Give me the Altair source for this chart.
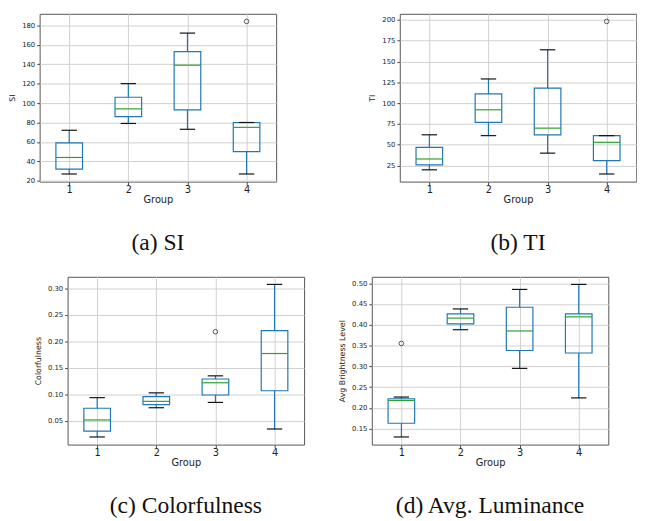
import altair as alt
import pandas as pd

groups = [1, 2, 3, 4]

# (a) SI
si_low = [27, 79, 73, 27]
si_q1 = [32, 86, 93, 50]
si_med = [44, 94, 139, 75]
si_q3 = [59, 106, 153, 80]
si_high = [72, 120, 172, 80]
si_out_group = [4]
si_out_val = [184]
si_ticks = [20, 40, 60, 80, 100, 120, 140, 160, 180]

# (b) TI
ti_low = [20, 61, 40, 15]
ti_q1 = [26, 77, 62, 31]
ti_med = [33, 92, 70, 53]
ti_q3 = [47, 111, 118, 61]
ti_high = [62, 129, 164, 61]
ti_out_group = [4]
ti_out_val = [198]
ti_ticks = [25, 50, 75, 100, 125, 150, 175, 200]

# (c) Colorfulness
cf_low = [0.020, 0.075, 0.085, 0.035]
cf_q1 = [0.031, 0.081, 0.099, 0.107]
cf_med = [0.052, 0.087, 0.122, 0.177]
cf_q3 = [0.074, 0.096, 0.129, 0.220]
cf_high = [0.094, 0.103, 0.135, 0.307]
cf_out_group = [3]
cf_out_val = [0.218]
cf_ticks = [0.05, 0.10, 0.15, 0.20, 0.25, 0.30]

# (d) Avg. Luminance
lum_low = [0.130, 0.388, 0.295, 0.224]
lum_q1 = [0.163, 0.402, 0.338, 0.332]
lum_med = [0.218, 0.416, 0.385, 0.419]
lum_q3 = [0.222, 0.426, 0.442, 0.426]
lum_high = [0.226, 0.438, 0.485, 0.497]
lum_out_group = [1]
lum_out_val = [0.355]
lum_ticks = [0.15, 0.20, 0.25, 0.30, 0.35, 0.40, 0.45, 0.50]

BLUE = "#1f77b4"
GREEN = "#2ca02c"
W, H = 241, 171


def ydomain(low, high, ov):
    lo = min(low + ov)
    hi = max(high + ov)
    pad = (hi - lo) * 0.05
    return [lo - pad, hi + pad]


def panel(low, q1, med, q3, high, og, ov, ytitle, ticks, fmt, caption):
    df = pd.DataFrame({"g": groups, "low": low, "q1": q1, "med": med,
                       "q3": q3, "high": high})
    out = pd.DataFrame({"g": og, "v": ov})
    xs = alt.Scale(domain=[0.5, 4.5], nice=False, zero=False)
    ys = alt.Scale(domain=ydomain(low, high, ov), nice=False, zero=False)
    xax = alt.Axis(values=groups, title="Group", grid=True, format="d",
                   labelFontSize=10, titleFontSize=10, labelPadding=0,
                   titlePadding=0)
    yax = alt.Axis(values=ticks, format=fmt, title=ytitle, grid=True,
                   labelFontSize=7, titleFontSize=8, labelPadding=2,
                   titlePadding=5)

    def X(f):
        return alt.X(f, type="quantitative", scale=xs, axis=xax)

    def Y(f):
        return alt.Y(f, type="quantitative", scale=ys, axis=yax)

    base = alt.Chart(df).transform_calculate(
        bx0="datum.g - 0.225", bx1="datum.g + 0.225",
        cx0="datum.g - 0.13", cx1="datum.g + 0.13")
    wl = base.mark_rule(color=BLUE, strokeWidth=1.2).encode(
        x=X("g"), y=Y("low"), y2="q1:Q")
    wh = base.mark_rule(color=BLUE, strokeWidth=1.2).encode(
        x=X("g"), y=Y("q3"), y2="high:Q")
    box = base.mark_rect(fillOpacity=0, fill="white", stroke=BLUE,
                         strokeWidth=1.2).encode(
        x=X("bx0"), x2="bx1:Q", y=Y("q1"), y2="q3:Q")
    md = base.mark_rule(color=GREEN, strokeWidth=1.2).encode(
        x=X("bx0"), x2="bx1:Q", y=Y("med"))
    cl = base.mark_rule(color="#111111", strokeWidth=1.2).encode(
        x=X("cx0"), x2="cx1:Q", y=Y("low"))
    ch = base.mark_rule(color="#111111", strokeWidth=1.2).encode(
        x=X("cx0"), x2="cx1:Q", y=Y("high"))
    pts = alt.Chart(out).mark_point(shape="circle", filled=False,
                                    color="#111111", size=22,
                                    strokeWidth=1).encode(
        x=X("g"), y=Y("v"))
    return alt.layer(wl, wh, box, md, cl, ch, pts).properties(
        width=W, height=H,
        title=alt.TitleParams(caption, orient="bottom", anchor="middle",
                              frame="group", font="Liberation Serif",
                              fontSize=24, fontWeight="normal",
                              color="#111111", offset=28))


pa = panel(si_low, si_q1, si_med, si_q3, si_high, si_out_group, si_out_val,
           "SI", si_ticks, "d", "(a) SI")
pb = panel(ti_low, ti_q1, ti_med, ti_q3, ti_high, ti_out_group, ti_out_val,
           "TI", ti_ticks, "d", "(b) TI")
pc = panel(cf_low, cf_q1, cf_med, cf_q3, cf_high, cf_out_group, cf_out_val,
           "Colorfulness", cf_ticks, ".2f", "(c) Colorfulness")
pd_ = panel(lum_low, lum_q1, lum_med, lum_q3, lum_high, lum_out_group,
            lum_out_val, "Avg Brightness Level", lum_ticks, ".2f",
            "(d) Avg. Luminance")

row1 = alt.hconcat(pa, pb, spacing=126, bounds="flush")
row2 = alt.hconcat(pc, pd_, spacing=69, bounds="flush")

chart = alt.vconcat(row1, row2, spacing=20, center=True).properties(
    padding={"left": 0, "top": 0, "right": 0, "bottom": 0}
).configure_view(
    stroke="#555555", strokeWidth=1
).configure_axis(
    domain=False, tickColor="#444444", tickSize=3, tickWidth=1,
    gridColor="#d0d0d0", gridWidth=1,
    labelFont="DejaVu Sans", titleFont="DejaVu Sans",
    labelColor="#222222", titleColor="#222222", titleFontWeight="normal"
)

chart.save("out.html", embed_options={"renderer": "svg", "actions": False})
